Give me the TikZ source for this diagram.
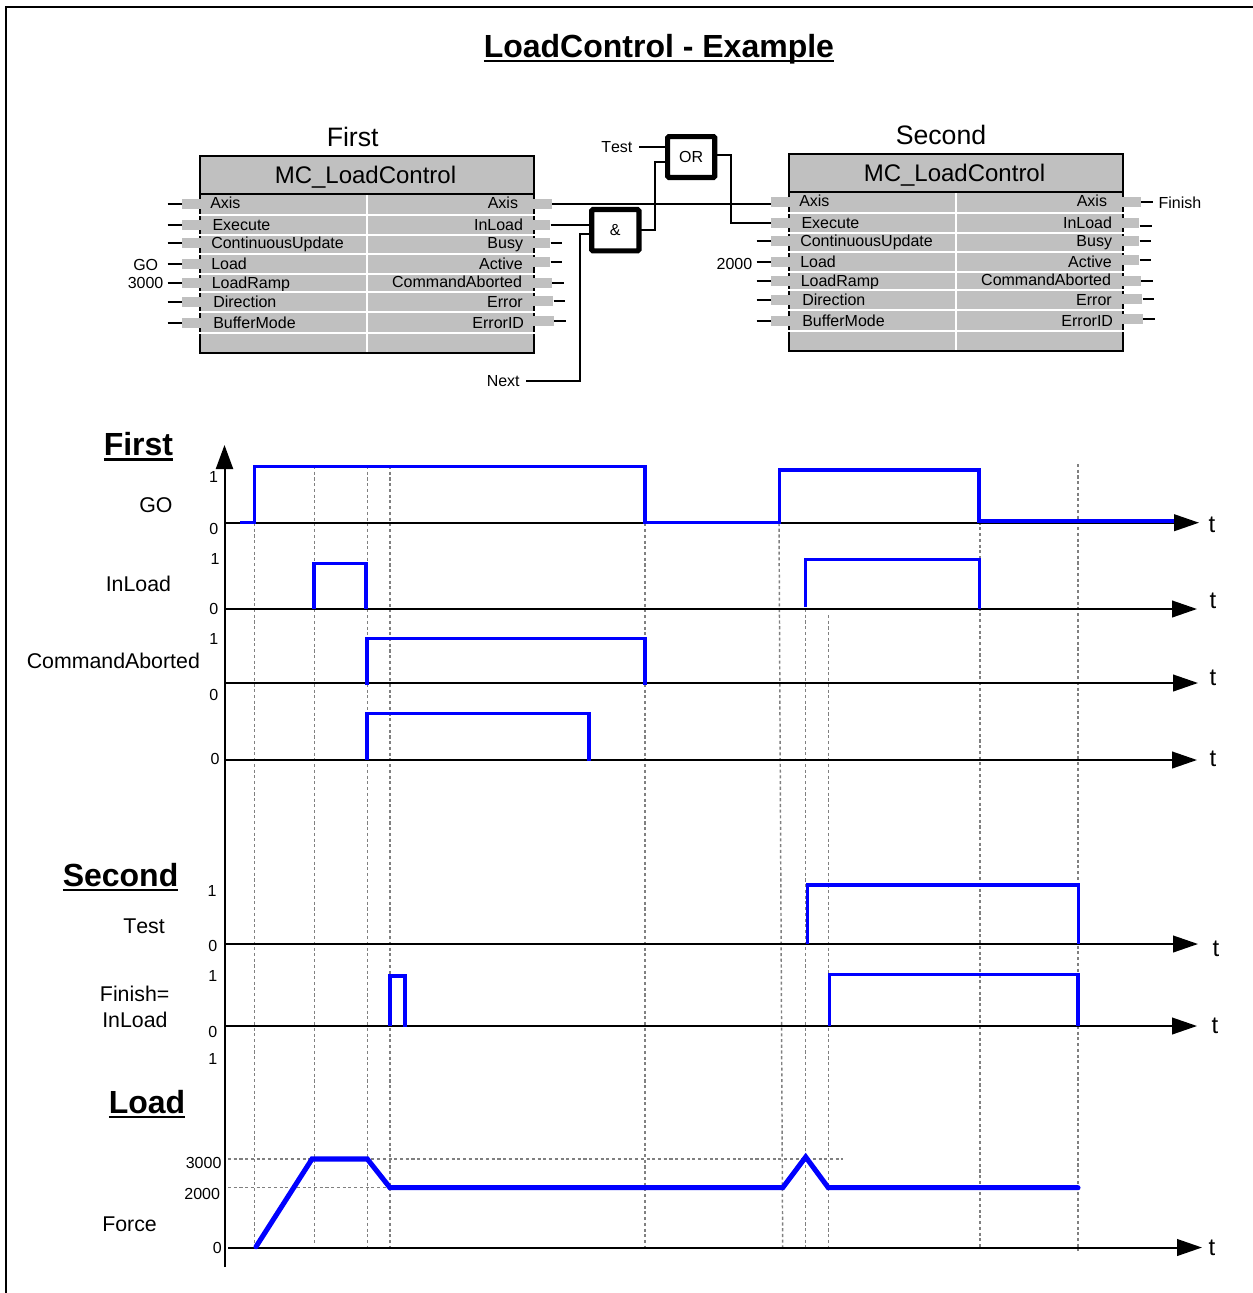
\documentclass[tikz,border=0pt]{standalone}
\usepackage{fontspec}
\setmainfont{Liberation Sans}
\usetikzlibrary{arrows.meta}
\tikzset{
  px/.style={x=0.75pt,y=-0.75pt},
  wire/.style={draw=black,line width=1.5pt},
  fbox/.style={draw=black,fill=white,line width=3.9pt,rounded corners=1pt,inner sep=0pt,font=\fontsize{12}{14}\selectfont},
  pin/.style={fill=pingray,draw=none,inner sep=0pt,minimum height=7.6pt},
  small/.style={inner sep=0pt,font=\fontsize{12}{14}\selectfont},
  mid/.style={inner sep=0pt,font=\fontsize{16}{19}\selectfont},
  big/.style={inner sep=0pt,font=\fontsize{20}{24}\selectfont},
  fbtitle/.style={inner sep=0pt,font=\fontsize{18}{22}\selectfont},
  head/.style={inner sep=0pt,font=\fontsize{24}{28}\selectfont\bfseries},
  tlab/.style={inner sep=0pt,font=\fontsize{18}{22}\selectfont,anchor=base},
  vdash/.style={draw=dashgray,line width=1.1pt,dash pattern=on 2.3pt off 2pt},
  axis/.style={draw=black,line width=1.5pt,-{Triangle[length=18.6pt,width=12.4pt]}},
  trace/.style={draw=sigblue,line width=2.3pt,line join=miter},
  ramp/.style={draw=sigblue,line width=3.8pt,line join=miter,line cap=round},
}
\definecolor{pingray}{HTML}{C0C0C0}
\definecolor{dashgray}{HTML}{808080}
\definecolor{sigblue}{HTML}{0000FF}
\newcommand{\hdul}[1]{\vtop{\hbox{\smash{#1}}\kern1.9pt\hrule height 2.2pt}}
\newcommand{\nokern}[1]{{\addfontfeature{Kerning=Off}#1}}
% #1 name prefix, #2 left stubs, #3 right stubs
\newcommand{\fbblock}[3]{%
  \node[fbtitle,anchor=base west] (#1-title) at (274.5,183.3) {MC\_LoadControl};
  \foreach \i/\t/\tx/\py/\by in {1/Axis/210/204/208.5,2/Execute/212.3/224.7/230.2,3/ContinuousUpdate/211/243/248.6,4/Load/211/264.3/269.3,5/LoadRamp/211.5/283.3/288.4,6/Direction/213/302.3/307.8,7/BufferMode/213/322.7/328}{
    \node[pin,minimum width=14.2pt,anchor=east] (#1-L\i) at (201,\py) {};
    \node[small,anchor=base west] (#1-lt\i) at (\tx,\by) {\t};
  }
  \foreach \i/\t/\tx/\py/\by/\w in {1/Axis/518.3/204/208.5/14.2,2/InLoad/523.3/224.7/230.2/12.8,3/Busy/523.3/243/248.6/12.8,4/Active/523/262/269.3/12.8,5/CommandAborted/522.3/283/287/14.2,6/Error/523/301/307.8/15,7/ErrorID/524.3/321/328/15.7}{
    \node[pin,minimum width=\w pt,anchor=west] (#1-R\i) at (533,\py) {};
    \node[small,anchor=base east] (#1-rt\i) at (\tx,\by) {\t};
  }
  \foreach \y in {214.7,234.7,254,274,292.3,311.7,333.3}
    \draw[white,line width=1.5pt] (199,\y) -- (535,\y);
  \draw[white,line width=1.5pt] (367,195) -- (367,352);
  \foreach \i in {#2}{
    \coordinate (#1-le\i) at ([xshift=-10.5pt]#1-L\i.west);
    \draw[wire] (#1-le\i) -- (#1-L\i.west);
  }
  \foreach \i in {#3}{
    \coordinate (#1-re\i) at ([xshift=8.5pt]#1-R\i.east);
    \draw[wire] (#1-R\i.east) -- (#1-re\i);
  }
}
\newcommand{\fbframe}{%
  \draw[fill=pingray,draw=black,line width=1.5pt] (200,156) rectangle (534,353);
  \draw[black,line width=1.5pt] (200,194) -- (534,194);
}
\begin{document}
\begin{tikzpicture}[px]
\useasboundingbox (0,0) rectangle (1253,1293);
\clip (0,0) rectangle (1253,1293);
\draw[line width=1.5pt] (6,1293) -- (6,7) -- (1253,7);
\node[head,anchor=base west] (title) at (483.5,57) {\hdul{LoadControl - Example}};
% function blocks
\fbframe
\fbblock{f}{1,...,7}{3,...,7}
\begin{scope}[shift={(589,-2)}]
\fbframe
\fbblock{s}{3,...,7}{1,3,4,5,6,7}
\end{scope}
\node[big,anchor=base west] (fname) at (326.5,146) {First};
\node[big,anchor=base west] (sname) at (895.5,144) {Second};
\coordinate (sr2e) at (1152,225.5);
\draw[wire] (s-R2.east |- sr2e) -- (sr2e);
% logic boxes
\node[fbox,minimum width=35.4pt,minimum height=31pt] (and) at (615.3,230.2) {\&};
\node[fbox,minimum width=35.4pt,minimum height=30.6pt] (or) at (691.2,157) {OR};
% connectors
\draw[wire] (f-R1.east) -- (s-L1.west |- f-R1.east);
\draw[wire] (f-R2.east) -- (and.west |- f-R2.east);
\node[small,anchor=base west] (next) at (486.5,386) {Next};
\node[small,anchor=base west] (test) at (601,152) {\nokern{Test}};
\coordinate (nexte) at (526,381);
\coordinate (andin) at (591,233.7);
\coordinate (testin) at (666,146.7);
\coordinate (testst) at (639,146.7);
\draw[wire] (nexte) -- (580,381) -- (580,233.7) -- (andin);
\draw[wire] (testst) -- (testin);
\draw[wire] (640,230) -- (654.5,230) -- (654.5,162.3) -- (667,162.3);
\draw[wire] (716,154.7) -- (731.3,154.7) -- (731.3,223) -- (s-L2.west |- 731,223);
\node[small,anchor=base west] (go) at (133,270) {GO};
\node[small,anchor=base west] (l3000) at (127.5,288.5) {3000};
\node[small,anchor=base east] (l2000) at (752.5,269) {2000};
\node[small,anchor=base west] (finish) at (1158.3,208.5) {Finish};
% timing: guide lines
\foreach \xa/\ya/\xb/\yb in {254.7/523/254.7/1245,314.3/466/314.3/1245,367.3/466/367.3/1251,390/466/390/1251,645/466/645/1251,779/523/782.7/1251,805.7/609/805.7/1251,828.5/615/828.5/1251,980/470/980/1248,1078/464/1078/1251,228/1159/843/1159,228/1187.7/390/1187.7}
  \draw[vdash] (\xa,\ya) -- (\xb,\yb);
% axes
\draw[draw=black,line width=1.5pt,-{Triangle[length=18pt,width=12.8pt]}] (224.5,1267) -- (224.5,445);
\foreach \i/\xa/\y/\xb in {1/225/522.7/1199,2/225/609/1197,3/225/683/1198,4/225/760/1197,5/225/944/1198,6/225/1026/1197,7/228/1247.5/1202}
  \draw[axis] (\xa,\y) -- (\xb,\y);
% signals
\draw[trace] (240,522.5) -- (254.7,522.5) -- (254.7,466.7) -- (645,466.7) -- (645,522.5) -- (779.3,522.5) -- (779.3,470) -- (979,470) -- (979,521) -- (1174,521);
\draw[trace] (314,609) -- (314,563.7) -- (366,563.7) -- (366,609);
\draw[trace] (805.3,607) -- (805.3,559.3) -- (979.7,559.3) -- (979.7,609);
\draw[trace] (367,685) -- (367,638.3) -- (645,638.3) -- (645,685);
\draw[trace] (367,760) -- (367,713.7) -- (589,713.7) -- (589,761);
\draw[trace] (807.7,944) -- (807.7,885) -- (1078.3,885) -- (1078.3,944);
\draw[trace] (390,1026) -- (390,976) -- (405,976) -- (405,1027);
\draw[trace] (829.3,1026) -- (829.3,974.7) -- (1078,974.7) -- (1078,1026);
\draw[ramp] (256,1246.7) -- (312,1159) -- (367.3,1159) -- (390,1187.7) -- (782.7,1187.7) -- (805.7,1157) -- (828.3,1187.7) -- (1078,1187.7);
% timing labels
\node[head,anchor=base west] (hfirst) at (103.5,455.3) {\hdul{First}};
\node[head,anchor=base west] (hsecond) at (62.5,886) {\hdul{Second}};
\node[head,anchor=base west] (hload) at (108.5,1113) {\hdul{Load}};
\node[mid,anchor=base west] (tgo) at (139,512) {GO};
\node[mid,anchor=base west] (tinload) at (105.5,591.2) {InLoad};
\node[mid,anchor=base west] (tcmd) at (26.5,668) {CommandAborted};
\node[mid,anchor=base west] (ttest) at (123,933) {\nokern{Test}};
\node[mid,anchor=base west] (tfin) at (99.7,1001.3) {Finish=};
\node[mid,anchor=base west] (tinl) at (102,1027) {InLoad};
\node[mid,anchor=base west] (tforce) at (102,1231) {Force};
\foreach \i/\x/\y/\t in {1/213.5/482.3/1,2/213.7/534.3/0,3/215/564/1,4/213.7/614/0,5/213.7/644/1,6/213.7/700/0,7/215/764/0,8/212/896/1,9/212.7/951.7/0,10/212.7/981/1,11/212.7/1037/0,12/212.7/1064/1}
  \node[small,anchor=base] (d\i) at (\x,\y) {\t};
\node[small,anchor=base east] (v3000) at (221.7,1168.3) {3000};
\node[small,anchor=base east] (v2000) at (220.3,1199) {2000};
\node[small,anchor=base east] (v0) at (222,1253) {0};
\foreach \i/\x/\y in {1/1212/532.3,2/1213/608,3/1213/685,4/1213/766.7,5/1216/956.7,6/1215/1033,7/1212/1255}
  \node[tlab] (t\i) at (\x,\y) {t};
\end{tikzpicture}
\end{document}
